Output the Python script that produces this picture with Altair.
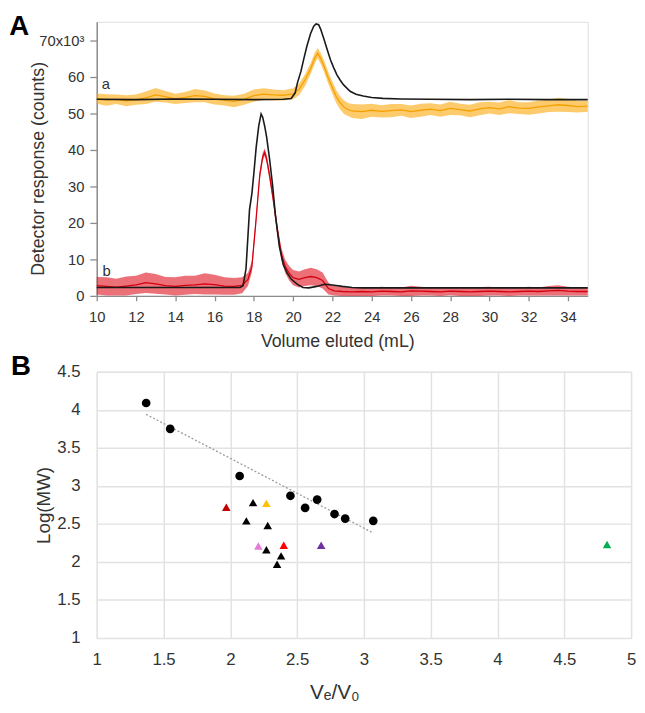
import altair as alt
import pandas as pd

# ---------------- Panel A data (volume in mL, response in 10^3 counts) ----------------
a_black_x = [10, 12, 14, 16, 18, 19.5, 19.9, 20.1, 20.22, 20.4, 20.55, 20.7, 20.89, 21.05, 21.17,
             21.3, 21.4, 21.56, 21.73, 21.9, 22.07, 22.23, 22.4, 22.56, 22.9, 23.2, 23.57, 24.0,
             24.57, 25.5, 27, 29, 31, 33, 35]
a_black_y = [53.8, 53.7, 53.9, 53.8, 53.7, 53.8, 54.0, 55.5, 58.3, 61.5, 65.0, 68.3, 71.8, 73.8, 74.4,
             74.2, 73.0, 70.4, 67.5, 64.6, 62.4, 60.5, 59.0, 57.8, 56.0, 55.2, 54.7, 54.3,
             54.05, 53.9, 53.8, 53.7, 53.8, 53.7, 53.7]

a_orange_x = [10, 10.5, 11, 11.5, 12, 12.5, 13, 13.5, 14, 14.5, 15, 15.5, 16, 16.5, 17, 17.5, 18,
              18.5, 19, 19.5, 20, 20.3, 20.6, 20.9, 21.1, 21.25, 21.4, 21.6, 21.8, 22.0, 22.2,
              22.4, 22.6, 22.8, 23.0, 23.5, 24, 24.5, 25, 25.5, 26, 26.5, 27, 27.5, 28, 28.5, 29,
              29.5, 30, 30.5, 31, 31.5, 32, 32.5, 33, 33.5, 34, 34.5, 35]
a_orange_mid = [54.0, 53.6, 53.8, 53.4, 53.7, 54.2, 55.0, 54.5, 53.9, 54.3, 54.8, 54.6, 53.9, 53.5,
                53.2, 53.8, 54.8, 55.2, 55.0, 54.9, 55.3, 56.5, 59.0, 62.3, 65.0, 66.4, 65.0, 62.5,
                59.5, 57.0, 54.5, 52.8, 51.6, 51.0, 50.6, 50.4, 50.8, 50.5, 50.7, 50.9, 50.4, 50.8,
                51.1, 50.7, 51.3, 51.0, 50.6, 51.2, 51.5, 51.2, 51.8, 51.4, 51.3, 51.7, 52.0, 52.3,
                52.1, 51.8, 51.9]
a_orange_spread = [1.4, 1.6, 1.3, 1.5, 1.4, 1.7, 1.9, 1.6, 1.4, 1.5, 1.8, 1.6, 1.5, 1.4, 1.6, 1.5,
                   1.7, 1.6, 1.5, 1.4, 1.5, 1.6, 1.6, 1.5, 1.5, 1.4, 1.5, 1.6, 1.6, 1.7, 1.8, 1.8,
                   1.9, 1.8, 1.9, 2.0, 1.8, 1.7, 1.8, 1.6, 1.7, 1.8, 1.6, 1.7, 1.8, 1.6, 1.7, 1.8,
                   1.6, 1.7, 1.8, 1.6, 1.7, 1.8, 1.7, 1.9, 1.8, 1.6, 1.5]

b_black_x = [10, 14, 17.3, 17.45, 17.6, 17.78, 17.9, 18.0, 18.12, 18.25, 18.37, 18.45, 18.55, 18.65,
             18.8, 18.95, 19.1, 19.3, 19.5, 19.7, 19.9, 20.2, 20.5, 20.8, 21.2, 21.6, 22.0, 22.5,
             23.0, 23.5, 24, 26, 28, 30, 32, 35]
b_black_y = [2.3, 2.3, 2.3, 2.8, 7.4, 23.6, 28.0, 33.5, 40.7, 46.5, 49.8, 48.9, 46.5, 43.5,
             37.5, 30.5, 22.0, 13.5, 8.5, 6.2, 4.6, 3.2, 2.3, 2.2, 2.6, 3.2, 3.0, 2.6,
             2.3, 2.2, 2.2, 2.2, 2.2, 2.2, 2.2, 2.2]

b_red_x = [10, 10.5, 11, 11.5, 12, 12.5, 13, 13.5, 14, 14.5, 15, 15.5, 16, 16.5, 17, 17.4, 17.7,
           17.9, 18.1, 18.3, 18.45, 18.55, 18.65, 18.8, 19.0, 19.2, 19.4, 19.6, 19.8, 20.0, 20.3,
           20.6, 20.9, 21.2, 21.5, 21.8, 22.1, 22.5, 23, 23.5, 24, 24.5, 25, 25.5, 26, 26.5, 27,
           27.5, 28, 28.5, 29, 29.5, 30, 30.5, 31, 31.5, 32, 32.5, 33, 33.5, 34, 34.5, 35]
b_red_mid = [2.8, 2.6, 2.4, 2.7, 3.0, 3.6, 3.3, 2.8, 2.6, 2.9, 3.0, 3.3, 3.1, 2.7, 2.6, 2.9, 4.5,
             8.0, 20.0, 33.0, 38.0, 39.3, 37.5, 33.0, 26.0, 18.0, 11.5, 8.0, 6.2, 5.0, 4.5,
             5.0, 5.3, 5.0, 4.2, 2.0, 1.4, 1.2, 1.1, 1.2, 1.1, 1.3, 1.2, 1.1, 1.4, 1.3, 1.2,
             1.1, 1.3, 1.2, 1.1, 1.2, 1.3, 1.2, 1.1, 1.2, 1.3, 1.2, 1.4, 1.5, 1.3, 1.2, 1.2]
b_red_spread = [2.4, 2.5, 2.3, 2.6, 2.5, 2.8, 2.7, 2.4, 2.5, 2.6, 2.5, 2.9, 2.7, 2.4, 2.3, 2.2, 1.8,
                1.5, 1.2, 1.2, 1.1, 1.0, 1.1, 1.2, 1.3, 1.4, 1.6, 1.8, 2.0, 2.1, 2.2,
                2.3, 2.4, 2.3, 2.2, 1.6, 1.3, 1.2, 1.1, 1.2, 1.1, 1.2, 1.1, 1.2, 1.4, 1.2, 1.1,
                1.2, 1.1, 1.2, 1.1, 1.2, 1.2, 1.1, 1.2, 1.1, 1.2, 1.1, 1.3, 1.4, 1.2, 1.1, 1.1]

trace_labels = ["a", "b"]
trace_label_x = [10.47, 10.5]
trace_label_y = [58.0, 6.7]

# ---------------- Panel B data ----------------
circ_x = [1.37, 1.55, 2.07, 2.45, 2.56, 2.65, 2.78, 2.86, 3.07]
circ_y = [4.09, 3.75, 3.13, 2.87, 2.71, 2.82, 2.63, 2.57, 2.54]
tri_x = [1.97, 2.17, 2.27, 2.12, 2.28, 2.21, 2.27, 2.40, 2.38, 2.35, 2.68, 4.82]
tri_y = [2.72, 2.78, 2.77, 2.54, 2.48, 2.21, 2.16, 2.22, 2.08, 1.97, 2.22, 2.23]
tri_group = ["darkred", "black", "gold", "black", "black", "pink", "black", "red", "black",
             "black", "purple", "green"]
trend_x = [1.37, 3.07]
trend_y = [3.94, 2.38]

group_names = ["black", "darkred", "gold", "pink", "red", "purple", "green"]
group_colors = ["#000000", "#c00000", "#ffc000", "#e67ad8", "#ff0000", "#7030a0", "#00b050"]

FONT = "Liberation Sans"
TXT = "#333333"

# ---------------- Panel A ----------------
xs_a = alt.Scale(domain=[10, 35], nice=False, zero=False)
ys_a = alt.Scale(domain=[0, 75], nice=False)
ax_xa = alt.Axis(values=list(range(10, 35, 2)), format="d", title="Volume eluted (mL)",
                 labelFontSize=15, labelColor=TXT, titleFontSize=18, titleFontWeight="normal",
                 titleColor=TXT, domainColor="#8c8c8c", domainWidth=1.5, tickColor="#8c8c8c",
                 tickSize=5, tickWidth=1.3, labelPadding=9, grid=False, titleX=244, titleY=46.7,
                 titleBaseline="middle", labelFont=FONT, titleFont=FONT, labelFlush=False)
ax_ya = alt.Axis(values=list(range(0, 71, 10)),
                 labelExpr="datum.value == 70 ? '70x10\u00b3' : datum.label",
                 title="Detector response (counts)", labelFontSize=15, labelColor=TXT,
                 titleFontSize=18, titleFontWeight="normal", titleColor=TXT,
                 domainColor="#8c8c8c", domainWidth=1.5, tickColor="#8c8c8c", tickSize=7,
                 tickWidth=1.3, labelPadding=6, grid=False, titleX=-59, titleY=148.7,
                 titleBaseline="middle", labelFont=FONT, titleFont=FONT, labelFlush=False)

df_ao = pd.DataFrame({"x": a_orange_x, "mid": a_orange_mid,
                      "lo": [m - s for m, s in zip(a_orange_mid, a_orange_spread)],
                      "hi": [m + s for m, s in zip(a_orange_mid, a_orange_spread)]})
df_br = pd.DataFrame({"x": b_red_x, "mid": b_red_mid,
                      "lo": [max(m - s, 0) for m, s in zip(b_red_mid, b_red_spread)],
                      "hi": [m + s for m, s in zip(b_red_mid, b_red_spread)]})
df_ab = pd.DataFrame({"x": a_black_x, "y": a_black_y})
df_bb = pd.DataFrame({"x": b_black_x, "y": b_black_y})
df_lab = pd.DataFrame({"x": trace_label_x, "y": trace_label_y, "t": trace_labels})


def X(f="x"):
    return alt.X(f + ":Q", scale=xs_a, axis=ax_xa)


def Y(f):
    return alt.Y(f + ":Q", scale=ys_a, axis=ax_ya)


orange_band = alt.Chart(df_ao).mark_area(color="#fba80a", opacity=0.6).encode(
    x=X(), y=Y("lo"), y2="hi")
orange_line = alt.Chart(df_ao).mark_line(color="#f5a000", strokeWidth=1.3).encode(x=X(), y=Y("mid"))
black_a = alt.Chart(df_ab).mark_line(color="#1a1a1a", strokeWidth=1.6).encode(x=X(), y=Y("y"))
red_band = alt.Chart(df_br).mark_area(color="#e0101e", opacity=0.6).encode(
    x=X(), y=Y("lo"), y2="hi")
red_line = alt.Chart(df_br).mark_line(color="#d40010", strokeWidth=1.3).encode(x=X(), y=Y("mid"))
black_b = alt.Chart(df_bb).mark_line(color="#1a1a1a", strokeWidth=1.6).encode(x=X(), y=Y("y"))
labels_a = alt.Chart(df_lab).mark_text(fontSize=15, color=TXT, font=FONT, align="center",
                                       baseline="middle").encode(x=X(), y=Y("y"), text="t:N")
panel_a = alt.Chart(pd.DataFrame({"t": ["A"]})).mark_text(
    fontSize=28, fontWeight="bold", font=FONT, color="#000", align="left", baseline="top"
).encode(text="t:N", x=alt.value(-88.7), y=alt.value(-8.5))

chart_a = alt.layer(orange_band, orange_line, black_a, red_band, red_line, black_b, labels_a,
                    panel_a).properties(width=498, height=278)

# ---------------- Panel B ----------------
xs_b = alt.Scale(domain=[1, 5], nice=False, zero=False)
ys_b = alt.Scale(domain=[1, 4.5], nice=False, zero=False)
ax_xb = alt.Axis(values=[1, 1.5, 2, 2.5, 3, 3.5, 4, 4.5, 5], format="~g", title="V\u2091/V\u2080",
                 labelFontSize=17, labelColor=TXT, titleFontSize=21, titleFontWeight="normal",
                 titleColor=TXT, domain=False, ticks=False, tickSize=0, labelPadding=14,
                 grid=True, gridColor="#e2e2e2", gridWidth=1.5, titleX=241, titleY=55.3,
                 titleBaseline="middle", labelFont=FONT, titleFont=FONT, labelFlush=False)
ax_yb = alt.Axis(values=[1, 1.5, 2, 2.5, 3, 3.5, 4, 4.5], format="~g", title="Log(MW)",
                 labelFontSize=17, labelColor=TXT, titleFontSize=19, titleFontWeight="normal",
                 titleColor=TXT, domain=False, ticks=False, tickSize=0, labelPadding=17,
                 grid=True, gridColor="#e2e2e2", gridWidth=1.5, titleX=-54, titleY=135,
                 titleBaseline="middle", labelFont=FONT, titleFont=FONT, labelFlush=False)

df_c = pd.DataFrame({"x": circ_x, "y": circ_y})
df_t = pd.DataFrame({"x": tri_x, "y": tri_y, "g": tri_group})
df_tr = pd.DataFrame({"x": trend_x, "y": trend_y})

trend = alt.Chart(df_tr).mark_line(color="#9a9a9a", strokeWidth=1.3, strokeDash=[2, 2]).encode(
    x=alt.X("x:Q", scale=xs_b, axis=ax_xb), y=alt.Y("y:Q", scale=ys_b, axis=ax_yb))
circles = alt.Chart(df_c).mark_point(shape="circle", filled=True, color="#000", size=78,
                                     opacity=1).encode(
    x=alt.X("x:Q", scale=xs_b, axis=ax_xb), y=alt.Y("y:Q", scale=ys_b, axis=ax_yb))
tris = alt.Chart(df_t).mark_point(shape="triangle-up", filled=True, size=75, opacity=1).encode(
    x=alt.X("x:Q", scale=xs_b, axis=ax_xb), y=alt.Y("y:Q", scale=ys_b, axis=ax_yb),
    color=alt.Color("g:N", scale=alt.Scale(domain=group_names, range=group_colors), legend=None))
panel_b = alt.Chart(pd.DataFrame({"t": ["B"]})).mark_text(
    fontSize=28, fontWeight="bold", font=FONT, color="#000", align="left", baseline="top"
).encode(text="t:N", x=alt.value(-87), y=alt.value(-19))

chart_b = alt.layer(trend, circles, tris, panel_b).properties(width=542, height=270)

chart = alt.vconcat(chart_a, chart_b, spacing=0).properties(
    padding={"left": 0, "top": 0, "right": 0, "bottom": 0}
).configure_view(stroke=None).configure(font=FONT)

chart.save("out.html", embed_options={"renderer": "svg", "actions": False})
